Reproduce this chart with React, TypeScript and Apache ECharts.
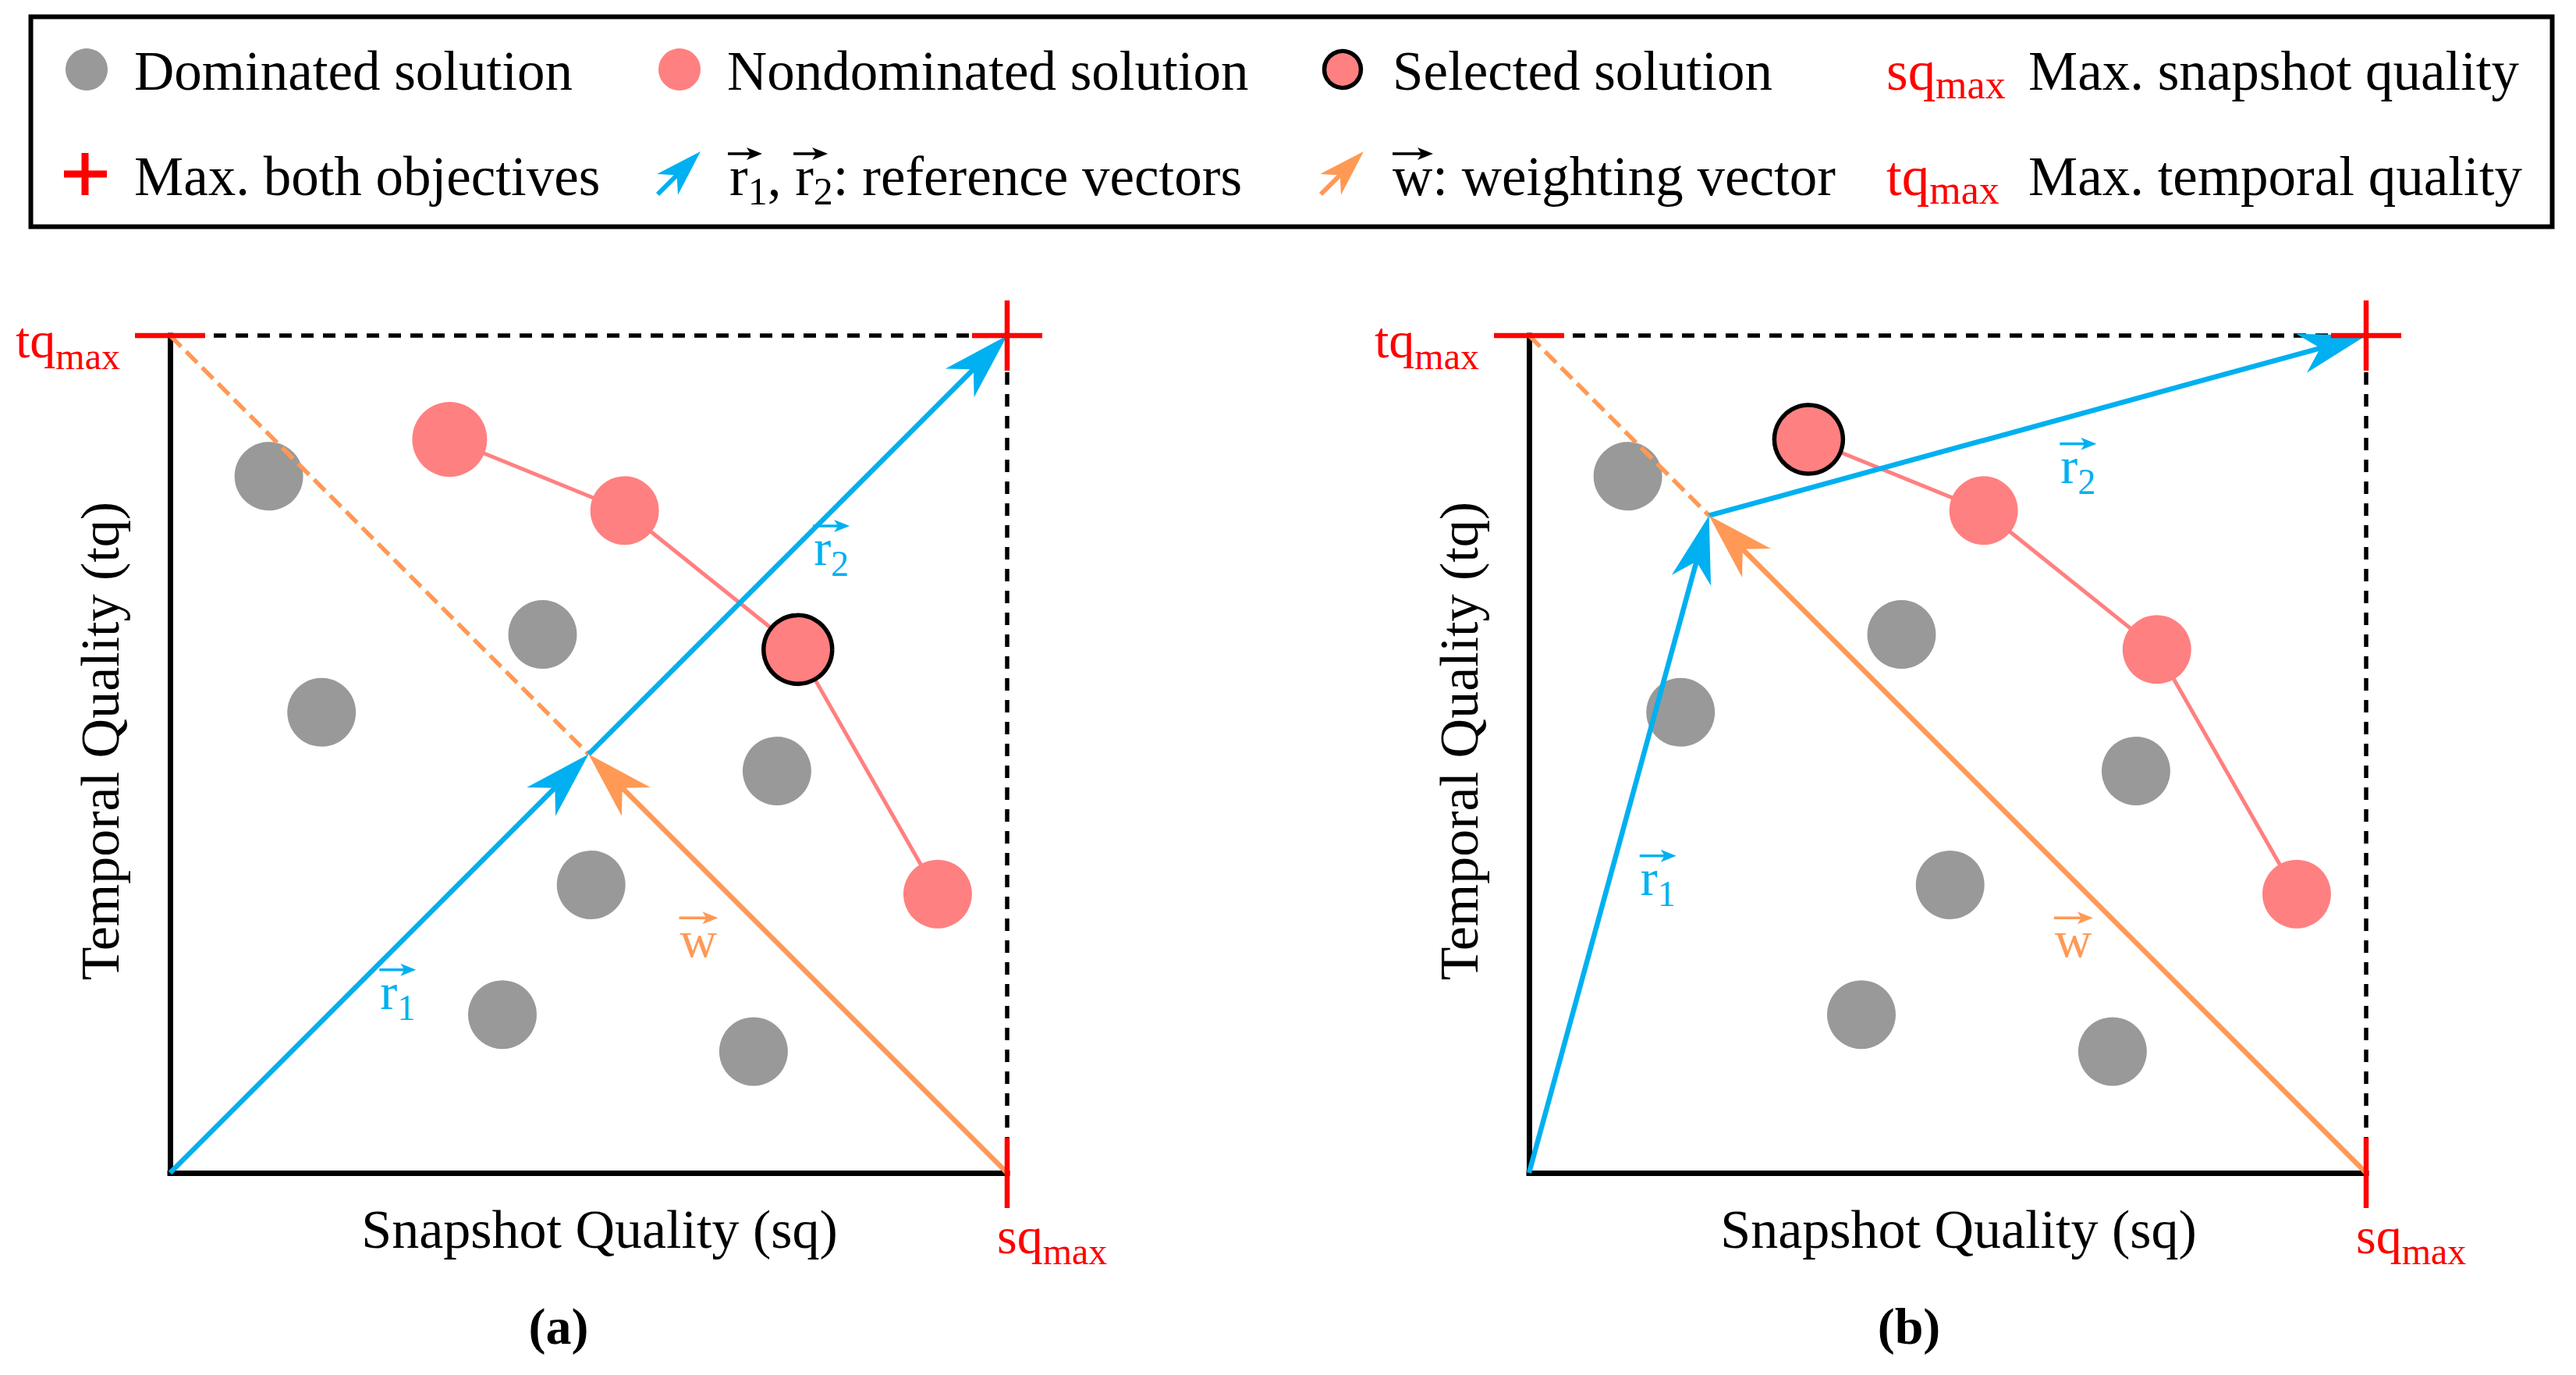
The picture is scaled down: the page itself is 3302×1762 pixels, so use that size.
import React, { useEffect, useRef } from 'react';
import * as echarts from 'echarts';

// ---------- data (normalised quality units, 0..1) ----------
const GRAY_SQ = [0.118, 0.181, 0.445, 0.725, 0.503, 0.397, 0.697];
const GRAY_TQ = [0.832, 0.55, 0.643, 0.48, 0.344, 0.189, 0.145];
const PARETO_SQ = [0.334, 0.543, 0.75, 0.917];
const PARETO_TQ = [0.876, 0.791, 0.625, 0.333];
const SELECTED = [2, 0]; // index of selected solution in panel (a), (b)
const KNEE_SQ = [0.5, 0.215];
const KNEE_TQ = [0.5, 0.785];
const MAX_SQ = 1;
const MAX_TQ = 1;
const PANEL_TAGS = ['(a)', '(b)'];
const VEC_NAMES = ['r', 'r', 'w'];
const VEC_SUBS = ['1', '2', ''];
const LABEL_SQ = [
  [0.251, 0.769, 0.609],
  [0.133, 0.635, 0.628],
];
const LABEL_TQ = [
  [0.196, 0.726, 0.258],
  [0.332, 0.824, 0.258],
];
const X_TITLE = 'Snapshot Quality (sq)';
const Y_TITLE = 'Temporal Quality (tq)';
const LEGEND_ROW1 = ['Dominated solution', 'Nondominated solution', 'Selected solution', 'Max. snapshot quality'];
const LEGEND_ROW2 = ['Max. both objectives', ': reference vectors', ': weighting vector', 'Max. temporal quality'];

// ---------- style ----------
const FONT = "'Liberation Serif', 'Times New Roman', serif";
const BLUE = '#00B0F0';
const ORANGE = '#FF9955';
const PINK = '#FF8080';
const GRAY = '#999999';
const RED = '#FF0000';
const MID = 0.3375; // central baseline offset (em)

const GRID_LEFT = [218, 1960];
const GRID_TOP = 430;
const GRID_SIZE = 1073;

function txt(text: string, x: number, baseline: number, size: number, fill: string, extra: any = {}) {
  return {
    type: 'text',
    silent: true,
    style: {
      text,
      x,
      y: baseline - MID * size,
      fill,
      fontSize: size,
      fontFamily: FONT,
      align: 'left',
      verticalAlign: 'middle',
      ...extra,
    },
  };
}

function headPts(tx: number, ty: number, dx: number, dy: number, L: number, hw: number, Ln: number) {
  const nx = -dy;
  const ny = dx;
  const bx = tx - dx * L;
  const by = ty - dy * L;
  return [
    [tx, ty],
    [bx + nx * hw, by + ny * hw],
    [tx - dx * Ln, ty - dy * Ln],
    [bx - nx * hw, by - ny * hw],
  ];
}

function accent(x0: number, x1: number, y: number, color: string) {
  return [
    { type: 'line', silent: true, shape: { x1: x0, y1: y, x2: x1 - 10, y2: y }, style: { stroke: color, lineWidth: 3.5 } },
    { type: 'polygon', silent: true, shape: { points: headPts(x1, y, 1, 0, 20, 8, 15) }, style: { fill: color } },
  ];
}

function legendArrow(tailX: number, tailY: number, tipX: number, tipY: number, color: string) {
  const l = Math.hypot(tipX - tailX, tipY - tailY);
  const dx = (tipX - tailX) / l;
  const dy = (tipY - tailY) / l;
  return [
    {
      type: 'line',
      silent: true,
      shape: { x1: tailX, y1: tailY, x2: tipX - dx * 40, y2: tipY - dy * 40 },
      style: { stroke: color, lineWidth: 6 },
    },
    { type: 'polygon', silent: true, shape: { points: headPts(tipX, tipY, dx, dy, 60, 19, 43) }, style: { fill: color } },
  ];
}

function buildLegend() {
  const LF = 71;
  const SF = 52;
  const B1 = 115;
  const B2 = 250;
  const els: any[] = [];
  els.push({
    type: 'rect',
    silent: true,
    shape: { x: 39.5, y: 21.5, width: 3232, height: 269 },
    style: { fill: 'none', stroke: '#000', lineWidth: 6 },
  });
  // row 1
  els.push({ type: 'circle', silent: true, shape: { cx: 111, cy: 89, r: 27 }, style: { fill: GRAY } });
  els.push(txt(LEGEND_ROW1[0], 172, B1, LF, '#000'));
  els.push({ type: 'circle', silent: true, shape: { cx: 871, cy: 89, r: 27 }, style: { fill: PINK } });
  els.push(txt(LEGEND_ROW1[1], 932, B1, LF, '#000'));
  els.push({
    type: 'circle',
    silent: true,
    shape: { cx: 1721, cy: 89, r: 23.5 },
    style: { fill: PINK, stroke: '#000', lineWidth: 5.5 },
  });
  els.push(txt(LEGEND_ROW1[2], 1785, B1, LF, '#000'));
  els.push(txt('sq', 2418, B1, LF, RED));
  els.push(txt('max', 2418 + 0.889 * LF, B1 + 11, SF, RED));
  els.push(txt(LEGEND_ROW1[3], 2600, B1, LF, '#000'));
  // row 2
  els.push({ type: 'rect', silent: true, shape: { x: 82, y: 218.5, width: 55, height: 9 }, style: { fill: RED } });
  els.push({ type: 'rect', silent: true, shape: { x: 104.5, y: 196, width: 9, height: 54 }, style: { fill: RED } });
  els.push(txt(LEGEND_ROW2[0], 172, B2, LF, '#000'));
  els.push(...legendArrow(843, 249, 898, 194, BLUE));
  let x = 935;
  els.push(txt('r', x, B2, LF, '#000'));
  els.push(...accent(x - 2, x + 42, B2 - 53, '#000'));
  x += 0.333 * LF;
  els.push(txt('1', x, B2 + 12, 50, '#000'));
  x += 0.5 * 50;
  els.push(txt(',', x, B2, LF, '#000'));
  x += 0.5 * LF;
  els.push(txt('r', x, B2, LF, '#000'));
  els.push(...accent(x - 2, x + 42, B2 - 53, '#000'));
  x += 0.333 * LF;
  els.push(txt('2', x, B2 + 12, 50, '#000'));
  x += 0.5 * 50;
  els.push(txt(LEGEND_ROW2[1], x, B2, LF, '#000'));
  els.push(...legendArrow(1693, 249, 1748, 194, ORANGE));
  els.push(txt('w', 1785, B2, LF, '#000'));
  els.push(...accent(1785, 1837, B2 - 53, '#000'));
  els.push(txt(LEGEND_ROW2[2], 1785 + 0.722 * LF, B2, LF, '#000'));
  els.push(txt('tq', 2418, B2, LF, RED));
  els.push(txt('max', 2418 + 0.778 * LF, B2 + 11, SF, RED));
  els.push(txt(LEGEND_ROW2[3], 2600, B2, LF, '#000'));
  // panel tags
  els.push(txt(PANEL_TAGS[0], 716, 1722, 66, '#000', { align: 'center', fontWeight: 'bold' }));
  els.push(txt(PANEL_TAGS[1], 2447, 1722, 66, '#000', { align: 'center', fontWeight: 'bold' }));
  return els;
}

function panelSeries(i: number) {
  const axes = { xAxisIndex: i, yAxisIndex: i };
  const kx = KNEE_SQ[i];
  const ky = KNEE_TQ[i];
  const series: any[] = [];
  series.push({
    type: 'scatter',
    ...axes,
    silent: true,
    z: 2,
    symbolSize: 88,
    itemStyle: { color: GRAY, opacity: 1 },
    data: GRAY_SQ.map((v, k) => [v, GRAY_TQ[k]]),
  });
  series.push({
    type: 'line',
    ...axes,
    silent: true,
    z: 3,
    clip: false,
    symbol: 'circle',
    showSymbol: true,
    lineStyle: { color: PINK, width: 5 },
    data: PARETO_SQ.map((v, k) => ({
      value: [v, PARETO_TQ[k]],
      symbolSize: i === 0 && k === 0 ? 96 : 88,
      itemStyle:
        k === SELECTED[i]
          ? { color: PINK, borderColor: '#000', borderWidth: 5.5, opacity: 1 }
          : { color: PINK, borderWidth: 0, opacity: 1 },
    })),
  });
  series.push({
    type: 'line',
    ...axes,
    silent: true,
    z: 4,
    clip: false,
    symbol: 'none',
    lineStyle: { color: '#000', width: 5.5, type: [16, 12] },
    data: [
      [0, MAX_TQ],
      [MAX_SQ, MAX_TQ],
      [MAX_SQ, 0],
    ],
  });
  series.push({
    type: 'line',
    ...axes,
    silent: true,
    z: 4,
    clip: false,
    symbol: 'none',
    lineStyle: { color: ORANGE, width: 5.5, type: [20, 9] },
    data: [
      [0, MAX_TQ],
      [kx, ky],
    ],
  });
  // vectors r1, r2, w
  series.push({
    type: 'custom',
    ...axes,
    silent: true,
    z: 5,
    clip: false,
    data: [
      [0, 0, kx, ky, 0],
      [kx, ky, MAX_SQ, MAX_TQ, 0],
      [MAX_SQ, 0, kx, ky, 1],
    ],
    renderItem: (params: any, api: any) => {
      const p1 = api.coord([api.value(0), api.value(1)]);
      const p2 = api.coord([api.value(2), api.value(3)]);
      const color = api.value(4) === 0 ? BLUE : ORANGE;
      const l = Math.hypot(p2[0] - p1[0], p2[1] - p1[1]);
      const dx = (p2[0] - p1[0]) / l;
      const dy = (p2[1] - p1[1]) / l;
      return {
        type: 'group',
        children: [
          {
            type: 'line',
            shape: { x1: p1[0], y1: p1[1], x2: p2[0] - dx * 55, y2: p2[1] - dy * 55 },
            style: { stroke: color, lineWidth: 6.5 },
          },
          { type: 'polygon', shape: { points: headPts(p2[0], p2[1], dx, dy, 86, 26, 61) }, style: { fill: color } },
        ],
      };
    },
  });
  // red max markers
  series.push({
    type: 'custom',
    ...axes,
    silent: true,
    z: 6,
    clip: false,
    data: [
      [0, MAX_TQ, 0],
      [MAX_SQ, MAX_TQ, 2],
      [MAX_SQ, 0, 1],
    ],
    renderItem: (params: any, api: any) => {
      const p = api.coord([api.value(0), api.value(1)]);
      const kind = api.value(2);
      const children: any[] = [];
      if (kind !== 1)
        children.push({
          type: 'line',
          shape: { x1: p[0] - 45, y1: p[1], x2: p[0] + 45, y2: p[1] },
          style: { stroke: RED, lineWidth: 6.5 },
        });
      if (kind !== 0)
        children.push({
          type: 'line',
          shape: { x1: p[0], y1: p[1] - 45, x2: p[0], y2: p[1] + 45 },
          style: { stroke: RED, lineWidth: 6.5 },
        });
      return { type: 'group', children };
    },
  });
  // max labels
  series.push({
    type: 'custom',
    ...axes,
    silent: true,
    z: 6,
    clip: false,
    data: [
      [0, MAX_TQ],
      [MAX_SQ, 0],
    ],
    renderItem: (params: any, api: any) => {
      const p = api.coord([api.value(0), api.value(1)]);
      const F = 66;
      const S = 48;
      if (params.dataIndex === 0) {
        const x = p[0] - 198;
        const b = p[1] + 28;
        return {
          type: 'group',
          children: [txt('tq', x, b, F, RED), txt('max', x + 0.778 * F, b + 15, S, RED)],
        };
      }
      const x = p[0] - 13;
      const b = p[1] + 103;
      return {
        type: 'group',
        children: [txt('sq', x, b, F, RED), txt('max', x + 0.889 * F, b + 14, S, RED)],
      };
    },
  });
  // vector labels
  series.push({
    type: 'custom',
    ...axes,
    silent: true,
    z: 6,
    clip: false,
    data: LABEL_SQ[i].map((v, k) => [v, LABEL_TQ[i][k]]),
    renderItem: (params: any, api: any) => {
      const k = params.dataIndex;
      const p = api.coord([api.value(0), api.value(1)]);
      const name = VEC_NAMES[k];
      const sub = VEC_SUBS[k];
      const color = k < 2 ? BLUE : ORANGE;
      const F = 66;
      const S = 46;
      const w = name === 'w' ? 0.722 * F : 0.333 * F;
      const children: any[] = [txt(name, p[0], p[1], F, color)];
      if (sub) children.push(txt(sub, p[0] + w, p[1] + 14, S, color));
      children.push(...accent(p[0] - 1, p[0] + (name === 'w' ? 49 : 46), p[1] - 50, color));
      return { type: 'group', children };
    },
  });
  return series;
}

function buildOption() {
  const nameStyle = { fontFamily: FONT, fontSize: 70, color: '#000' };
  return {
    animation: false,
    backgroundColor: '#ffffff',
    grid: [0, 1].map((i) => ({ left: GRID_LEFT[i], top: GRID_TOP, width: GRID_SIZE, height: GRID_SIZE })),
    xAxis: [0, 1].map((i) => ({
      gridIndex: i,
      type: 'value',
      min: 0,
      max: MAX_SQ,
      axisLine: { show: true, onZero: false, lineStyle: { color: '#000', width: 7, cap: 'square' } },
      axisTick: { show: false },
      axisLabel: { show: false },
      splitLine: { show: false },
      name: X_TITLE,
      nameLocation: 'middle',
      nameGap: 37,
      nameTextStyle: { ...nameStyle, padding: [0, 0, 0, 28] },
    })),
    yAxis: [0, 1].map((i) => ({
      gridIndex: i,
      type: 'value',
      min: 0,
      max: MAX_TQ,
      axisLine: { show: true, onZero: false, lineStyle: { color: '#000', width: 7, cap: 'square' } },
      axisTick: { show: false },
      axisLabel: { show: false },
      splitLine: { show: false },
      name: Y_TITLE,
      nameLocation: 'middle',
      nameGap: 55,
      nameTextStyle: { ...nameStyle, padding: [0, 0, 0, 34] },
    })),
    graphic: { elements: buildLegend() },
    series: [...panelSeries(0), ...panelSeries(1)],
  };
}

export default function App() {
  const ref = useRef<HTMLDivElement>(null);
  useEffect(() => {
    document.body.style.margin = '0';
    document.body.style.overflow = 'hidden';
    const chart = echarts.init(ref.current as HTMLDivElement, null, { renderer: 'svg' });
    chart.setOption(buildOption() as any);
    return () => chart.dispose();
  }, []);
  return <div ref={ref} style={{ width: 3302, height: 1762, background: '#fff' }} />;
}
